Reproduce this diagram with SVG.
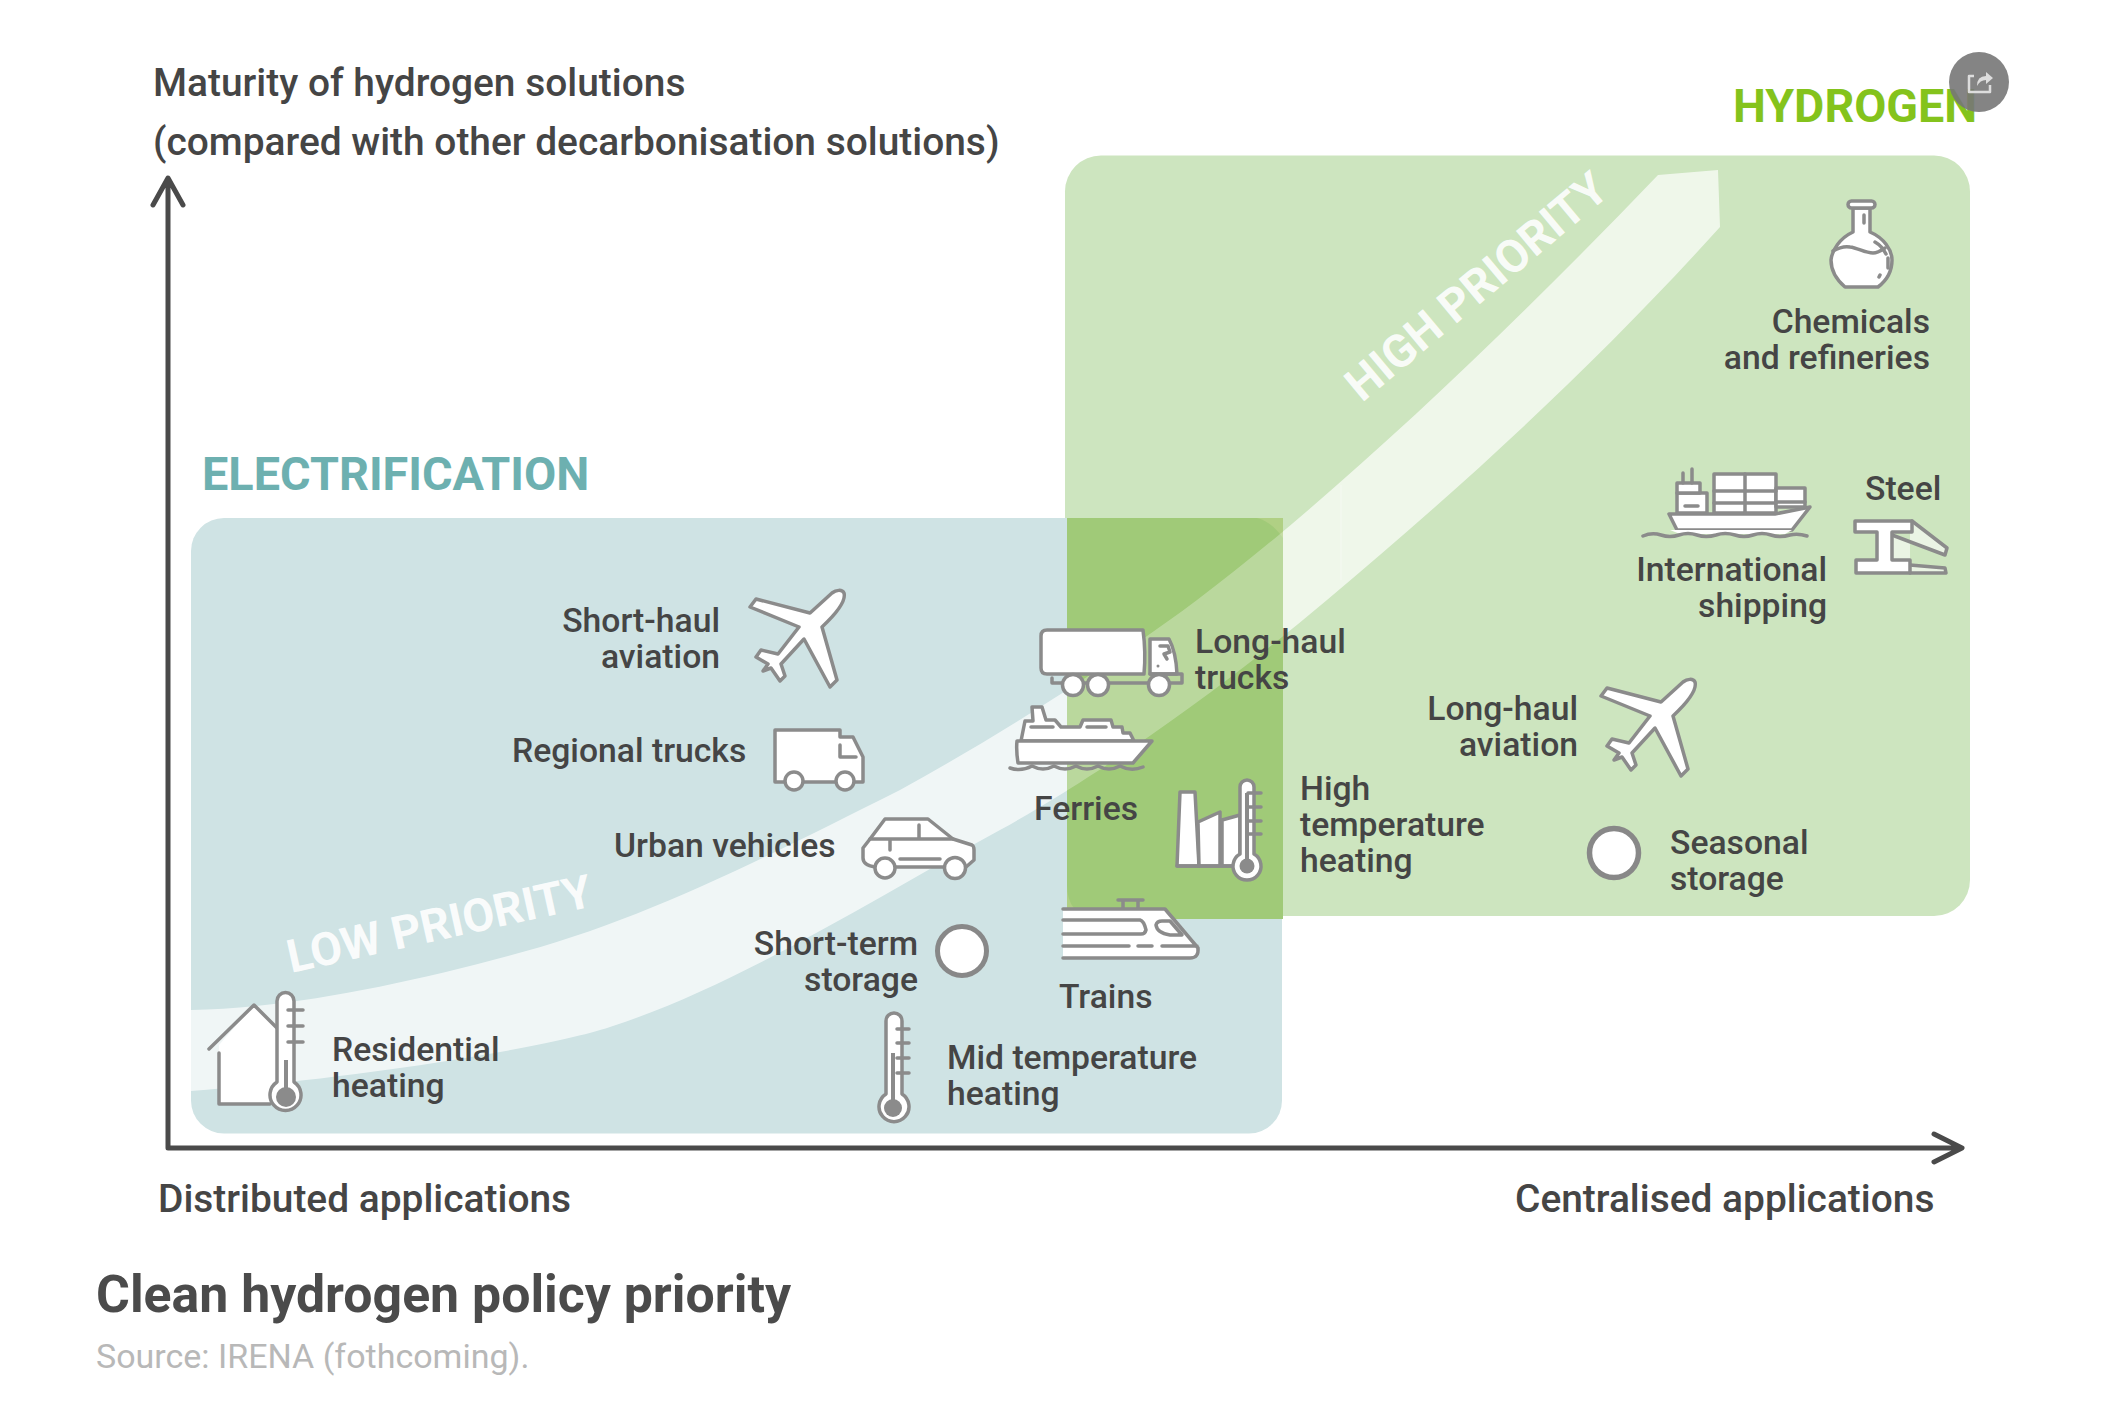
<svg xmlns="http://www.w3.org/2000/svg" width="2121" height="1408" viewBox="0 0 2121 1408">
<style>
text{font-family:Roboto,"Liberation Sans",sans-serif;fill:#454545;font-weight:500}
.l{font-size:33.700px}
.e{text-anchor:end}
.a{font-size:38.900px}
.i{fill:#fff;stroke:#8b8b8b;stroke-width:3.5;stroke-linejoin:round;stroke-linecap:round}
.s{fill:none;stroke:#8b8b8b;stroke-width:3.5;stroke-linejoin:round;stroke-linecap:round}
.m{fill:#8b8b8b;stroke:none}
.p{font-size:46px;font-weight:700;fill:#fff;fill-opacity:.9}
.ax{fill:none;stroke:#4a4a4a;stroke-width:5;stroke-linecap:round;stroke-linejoin:round}
</style>
<defs>
<path id="band" d="M191 1010C290 1008 400 985 508 956C640 922 760 860 900 790C1000 735 1110 665 1197 600C1330 500 1500 340 1658 175L1718 170L1720 227C1600 360 1470 480 1327 600C1220 690 1100 775 1000 830C880 895 740 985 610 1027C540 1050 340 1080 191 1091Z"/>
<path id="ov" d="M1067 518H1257Q1272 522 1283 538V919H1096Q1067 915 1067 885Z"/>
<clipPath id="ovc"><rect x="1067" y="518" width="216" height="401"/></clipPath>
<path id="plane" d="M844 593C846 600 838 612 822 627L837 680L830 687L804 639L781 664L785 676L780 681L771 668L763 671L768 664L756 657L761 650L778 654L799 627L750 607L756 599L810 613L832 593C836 590 842 589 844 593Z"/>
</defs>
<rect width="2121" height="1408" fill="#fff"/>
<g id="regions">
<rect id="hydrogen-zone" x="1065" y="155.500" width="905" height="760.500" rx="36" fill="#cde5bf"/>
<rect id="electrification-zone" x="191" y="518" width="1091" height="615.500" rx="33" fill="#cfe3e4"/>
<use href="#band" fill="#fff" fill-opacity=".68"/>
<path d="M1341 485V580" stroke="#fff" stroke-opacity=".25" stroke-width="1.500"/>
<rect x="1067" y="518" width="216" height="401" fill="#b0d084"/>
<use href="#ov" fill="#a0ca78"/>
<use href="#band" fill="#fff" fill-opacity=".28" clip-path="url(#ovc)"/>
</g>
<g id="axes">
<path class="ax" d="M168 1148V180M153 205L168 178L183 205M168 1148H1960M1934 1134L1962 1148L1934 1162"/>
</g>
<text class="a" x="153" y="96">Maturity of hydrogen solutions</text>
<text class="a" x="153" y="155">(compared with other decarbonisation solutions)</text>
<text x="1733" y="122" font-size="46.600" style="fill:#84c31c;font-weight:700">HYDROGEN</text>
<text x="202" y="490" font-size="46.800" style="fill:#6db0b0;font-weight:700">ELECTRIFICATION</text>
<text class="p" transform="translate(1362 403) rotate(-40)">HIGH PRIORITY</text>
<text class="p" transform="translate(291 973) rotate(-12.500)">LOW PRIORITY</text>
<g id="short-haul-aviation">
<use href="#plane" class="i"/>
<text class="l e" x="720" y="632">Short-haul</text><text class="l e" x="720" y="668">aviation</text>
</g>
<g id="regional-trucks">
<path class="i" d="M775 730H840V737H853L863 757V782H775Z"/>
<path class="s" d="M840 745V757H856"/>
<circle class="i" cx="794" cy="781" r="9"/><circle class="i" cx="845" cy="781" r="9"/>
<text class="l" x="512" y="762">Regional trucks</text>
</g>
<g id="urban-vehicles">
<path class="i" d="M870 839L885 819H928L953 839L972 845Q974 846 974 850V860L966 867H875Q863 865 863 858V848Z"/>
<path class="s" d="M870 839H953M919 825V839M890 839V850M900 859H940"/>
<circle class="i" cx="885" cy="868" r="10"/><circle class="i" cx="955" cy="868" r="10.500"/>
<text class="l" x="614" y="857">Urban vehicles</text>
</g>
<g id="short-term-storage">
<circle cx="962" cy="951" r="24.500" fill="#fff" stroke="#888" stroke-width="5"/>
<text class="l e" x="918" y="955">Short-term</text><text class="l e" x="918" y="991">storage</text>
</g>
<g id="residential-heating">
<path d="M219 1045L254 1005L277 1028V1104H219Z" fill="#fff"/>
<path class="s" d="M209 1049L254 1005L277 1028M219 1053V1104H270"/>
<path class="i" d="M277 1001A8.500 8.500 0 0 1 294 1001V1082A15.500 15.500 0 1 1 277 1082Z"/>
<path class="s" d="M288 1010H303M288 1026H303M288 1042H303"/>
<path class="m" d="M284 1060H288V1097H284Z"/><circle class="m" cx="286" cy="1097" r="10"/>
<text class="l" x="332" y="1061">Residential</text><text class="l" x="332" y="1097">heating</text>
</g>
<g id="mid-temperature-heating">
<path class="i" d="M886 1021A8 8 0 0 1 902 1021V1094A15 15 0 1 1 886 1094Z"/>
<path class="s" d="M897 1029H909M897 1043H909M897 1058H909M897 1073H909"/>
<path class="m" d="M891 1053H895V1108H891Z"/><circle class="m" cx="893" cy="1108" r="9"/>
<text class="l" x="947" y="1069">Mid temperature</text><text class="l" x="947" y="1105">heating</text>
</g>
<g id="trains">
<path d="M1063 909H1165L1198 948Q1199 958 1190 958H1063Z" fill="#fff"/>
<path class="s" d="M1063 909H1165L1198 948Q1199 958 1190 958H1063M1118 900H1143M1123 900V909M1138 900V909M1063 920H1140Q1144 921 1146 930Q1145 934 1141 934H1063M1162 921H1170L1182 935H1170Q1157 933 1156 925Q1157 921 1162 921ZM1063 946H1129M1138 946H1152M1162 946H1197"/>
<text class="l" x="1059" y="1008">Trains</text>
</g>
<g id="long-haul-trucks">
<path class="i" d="M1047 630H1143Q1146 652 1144 674H1047Q1041 674 1041 668V636Q1041 630 1047 630Z"/>
<path class="i" d="M1150 674V639H1169Q1176 652 1177 674Z"/>
<path class="s" d="M1052 678V683H1182V674H1150M1160 646H1168L1170 652L1164 654L1167 659"/>
<circle class="m" cx="1158" cy="666" r="1.500"/>
<circle class="i" cx="1073" cy="685" r="10.500"/><circle class="i" cx="1098" cy="685" r="10.500"/><circle class="i" cx="1159" cy="685" r="10.500"/>
<text class="l" x="1195" y="653">Long-haul</text><text class="l" x="1195" y="689">trucks</text>
</g>
<g id="ferries">
<path class="i" d="M1021 741L1025 721H1033L1032 707H1042L1046 720H1055L1061 727H1080L1083 720H1111L1113 727H1122L1123 733H1130L1134 741Z"/>
<path class="i" d="M1017 741H1152L1133 763H1018Q1016 750 1017 741Z"/>
<path class="s" d="M1031 727H1053M1087 727H1106"/>
<path class="s" d="M1010 768Q1021 772 1032 766Q1043 772 1054 766Q1065 772 1076 766Q1087 772 1098 766Q1109 772 1120 766Q1131 772 1143 767"/>
<text class="l" x="1034" y="820">Ferries</text>
</g>
<g id="high-temperature-heating">
<path class="i" d="M1180 792H1195L1199 866H1177Z"/>
<path class="i" d="M1198 822L1220 812V866H1199Z"/>
<path class="i" d="M1222 820L1240 815V866H1222Z"/>
<path class="s" d="M1177 866H1240"/>
<path class="i" d="M1240 787A7 7 0 0 1 1254 787V854A14 14 0 1 1 1240 854Z"/>
<path class="s" d="M1248 793H1261M1248 807H1261M1248 821H1261M1248 834H1261"/>
<path class="m" d="M1245 793H1249V866H1245Z"/><circle class="m" cx="1247" cy="866" r="7.500"/>
<text class="l" x="1300" y="800">High</text><text class="l" x="1300" y="836">temperature</text><text class="l" x="1300" y="872">heating</text>
</g>
<g id="long-haul-aviation">
<use href="#plane" class="i" transform="translate(851 89)"/>
<text class="l e" x="1578" y="720">Long-haul</text><text class="l e" x="1578" y="756">aviation</text>
</g>
<g id="seasonal-storage">
<circle cx="1614" cy="853" r="24.500" fill="#fff" stroke="#888" stroke-width="5.500"/>
<text class="l" x="1670" y="854">Seasonal</text><text class="l" x="1670" y="890">storage</text>
</g>
<g id="chemicals-and-refineries">
<path class="i" d="M1853 208V232C1840 238 1832 250 1831 260C1831 272 1838 281 1845 287H1878C1886 281 1892 272 1892 260C1892 250 1884 238 1870 232V208Z"/>
<rect class="i" x="1848" y="201" width="27" height="7" rx="3.500"/>
<path class="s" d="M1833 251C1840 247 1845 246 1850 247C1858 248 1865 253 1873 253C1878 253 1882 250 1885 248M1864 215V223M1875 242Q1882 246 1886 254M1888 258V268M1880 275L1879 277"/>
<text class="l e" x="1930" y="333">Chemicals</text><text class="l e" x="1930" y="369">and refineries</text>
</g>
<g id="international-shipping">
<path class="i" d="M1669 514H1775L1810 507L1792 530H1677Z"/>
<rect class="i" x="1714" y="474" width="62" height="39"/>
<rect class="i" x="1776" y="488" width="29" height="19"/>
<rect class="i" x="1677" y="493" width="30" height="20"/>
<rect class="i" x="1677" y="483" width="23" height="10"/>
<path class="s" d="M1745 474V513M1714 491H1776M1714 503H1776M1776 502H1805M1683 483V473M1692 483V469M1685 506H1698"/>
<path d="M1670 530H1792L1785 534H1680Z" fill="#fff"/>
<path class="s" d="M1643 536Q1652 532 1661 535Q1670 538 1679 535Q1688 532 1697 535Q1706 538 1716 535Q1725 532 1735 535Q1744 538 1753 535Q1762 532 1771 535Q1780 538 1790 535Q1798 533 1807 536"/>
<text class="l e" x="1827" y="581">International</text><text class="l e" x="1827" y="617">shipping</text>
</g>
<g id="steel">
<path d="M1912 521L1947 548L1945 555L1892 535V560H1910V521Z" fill="#eaf4e4"/>
<path d="M1910 565L1945 568L1946 573H1910Z" fill="#eaf4e4"/>
<path class="s" d="M1912 521L1947 548L1945 555L1892 535M1910 565L1945 568L1946 573H1910"/>
<path class="i" d="M1855 521H1912V532H1892V560H1910V573H1856V560H1877V532H1855Z"/>
<text class="l" x="1865" y="500">Steel</text>
</g>
<text class="a" x="158" y="1212">Distributed applications</text>
<text class="a" x="1515" y="1212">Centralised applications</text>
<text x="96" y="1312" font-size="51.800" style="fill:#4b4b4b;font-weight:700">Clean hydrogen policy priority</text>
<text x="96" y="1368" font-size="34" style="fill:#b8b8b8;font-weight:400">Source: IRENA (fothcoming).</text>
<g id="share-button">
<circle cx="1979" cy="82" r="30" fill="#777" fill-opacity=".9"/>
<path d="M1974 76H1969V92H1990V85" fill="none" stroke="#ddd" stroke-width="2.500" stroke-linejoin="round"/>
<path d="M1977 86Q1977 76 1986 76V72L1993 78L1986 84V80Q1980 80 1977 86Z" fill="#ddd"/>
</g>
</svg>
